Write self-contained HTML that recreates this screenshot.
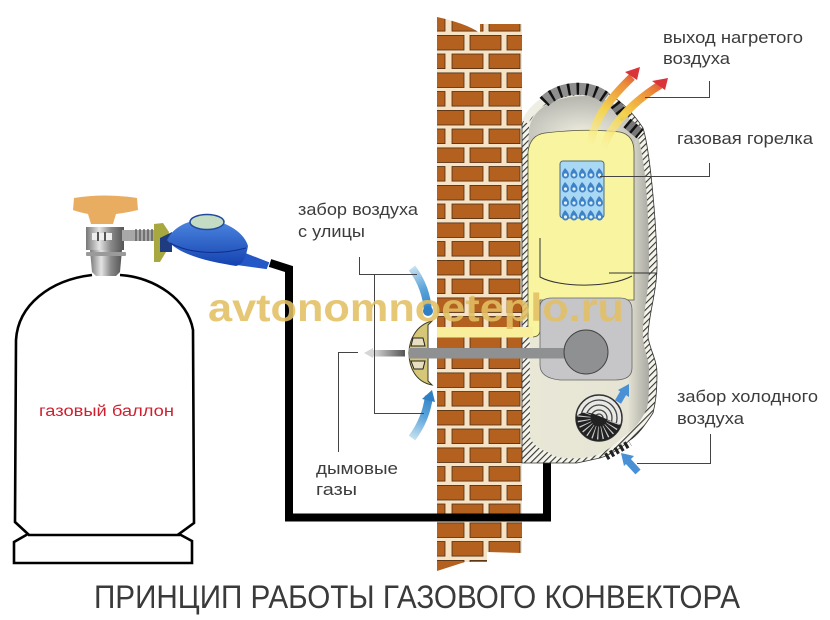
<!DOCTYPE html>
<html><head><meta charset="utf-8"><style>
html,body{margin:0;padding:0;background:#fff}
svg{display:block}
.l{font-family:"Liberation Sans",sans-serif;font-size:16.5px;fill:#3c3c3c}
</style></head><body>
<svg width="830" height="620" viewBox="0 0 830 620" xmlns="http://www.w3.org/2000/svg">
<defs>
<pattern id="br" x="437" y="35" width="85" height="37.5" patternUnits="userSpaceOnUse">
<rect width="85" height="37.5" fill="#f6e2c4"/>
<g fill="#b4601f" stroke="#4c2d14" stroke-width=".8">
<rect x="-2" y="0.4" width="29" height="14.6"/><rect x="33" y="0.4" width="31" height="14.6"/><rect x="70" y="0.4" width="17" height="14.6"/>
<rect x="-2" y="19" width="10" height="14.6"/><rect x="15" y="19" width="31" height="14.6"/><rect x="52" y="19" width="31" height="14.6"/>
</g></pattern>
<pattern id="ha" width="4.500" height="4.500" patternUnits="userSpaceOnUse" patternTransform="rotate(-45)">
<rect width="4.500" height="4.500" fill="#f4f4ea"/><rect width="4.500" height="1.100" fill="#333"/>
</pattern>
<linearGradient id="sh" x1="0" y1="0" x2="1" y2="0"><stop offset="0" stop-color="#e9e7d6"/><stop offset=".82" stop-color="#e6e4d4"/><stop offset="1" stop-color="#a9a9a3"/></linearGradient>
<linearGradient id="a1" gradientUnits="userSpaceOnUse" x1="592" y1="145" x2="640" y2="67"><stop offset="0" stop-color="#faf3a0" stop-opacity=".6"/><stop offset=".4" stop-color="#f4d34e"/><stop offset=".75" stop-color="#ec8e3a"/><stop offset="1" stop-color="#d8343a"/></linearGradient>
<linearGradient id="a2" gradientUnits="userSpaceOnUse" x1="603" y1="147" x2="668" y2="77"><stop offset="0" stop-color="#faf3a0" stop-opacity=".6"/><stop offset=".4" stop-color="#f4d34e"/><stop offset=".75" stop-color="#ec8e3a"/><stop offset="1" stop-color="#d8343a"/></linearGradient>
<linearGradient id="b1" gradientUnits="userSpaceOnUse" x1="411" y1="268" x2="428" y2="313"><stop offset="0" stop-color="#c4e0f0"/><stop offset=".5" stop-color="#5ba3da"/><stop offset="1" stop-color="#2f7fc4"/></linearGradient>
<linearGradient id="b2" gradientUnits="userSpaceOnUse" x1="412" y1="438" x2="430" y2="392"><stop offset="0" stop-color="#c4e0f0"/><stop offset=".5" stop-color="#5ba3da"/><stop offset="1" stop-color="#2f7fc4"/></linearGradient>
<linearGradient id="g1" x1="0" y1="0" x2="1" y2="0"><stop offset="0" stop-color="#ddd"/><stop offset="1" stop-color="#555"/></linearGradient>
<linearGradient id="si" x1="0" y1="0" x2="1" y2="0"><stop offset="0" stop-color="#777"/><stop offset=".35" stop-color="#e4e4e4"/><stop offset=".65" stop-color="#8a8a8a"/><stop offset="1" stop-color="#555"/></linearGradient>
<linearGradient id="rb" x1="0" y1="0" x2="0" y2="1"><stop offset="0" stop-color="#4d87e0"/><stop offset="1" stop-color="#1442b0"/></linearGradient>
<radialGradient id="dm" cx=".5" cy=".7" r=".65"><stop offset="0" stop-color="#efede0"/><stop offset="1" stop-color="#b9b9b2"/></radialGradient>
<clipPath id="fanlow"><path d="M575,418 C585,405 600,418 622,425 L622,445 L575,445Z"/></clipPath>
</defs>

<!-- wall -->
<path d="M437,17 C455,21 470,26 480,33 L480,24 L522,24 L522,553 L487,552 L487,562 L465,562 L437,571Z" fill="url(#br)"/>

<!-- cylinder -->
<g fill="none" stroke="#000" stroke-width="2.6">
<path d="M92,275 C50,280 18,305 16,340 L15,522 L28,534 L14,542 L14,563 L192,563 L192,541 L179,534 L194,523 L193,330 C188,300 155,277 120,275"/>
<path d="M28,535 L180,535"/>
</g>
<text x="39" y="416" font-family="Liberation Sans,sans-serif" font-size="15.5" fill="#d02030" textLength="135" lengthAdjust="spacingAndGlyphs">газовый баллон</text>

<!-- valve -->
<path d="M90,250 H122 L120,272 L116,276 H96 L92,272Z" fill="url(#si)"/>
<rect x="86" y="252" width="40" height="4" rx="1" fill="#9a9a9a"/>
<path d="M86,227 H124 V250 H86Z" fill="url(#si)"/>
<rect x="92" y="233" width="20" height="7" fill="#eee"/><path d="M98,232V241M105,232V241" stroke="#555" stroke-width="2"/>
<rect x="122" y="230" width="34" height="11" fill="#a8a8a8"/>
<path d="M136,229V241M140,229V241M144,229V241M148,229V241M152,229V241" stroke="#555" stroke-width="1.300"/>
<path d="M74,198 Q105,193 137,198 L138,210 Q125,213 116,214 L113,224 H91 L88,214 Q78,212 73,210Z" fill="#e9ad62"/>
<path d="M154,224 L163,223 L169,232 L166,252 L160,262 H154Z" fill="#a8a840"/>
<!-- regulator -->
<path d="M240,252 L268,263 L266,268 L237,264Z" fill="#2458c6" stroke="#2458c6" stroke-width="2"/>
<path d="M160,238 L172,232 L172,252 L160,252Z" fill="#1f3c80"/>
<path d="M167,240 C174,226 190,219 207,220 C228,221 245,234 248,246 C246,258 242,265 236,266 C212,262 180,256 167,240Z" fill="url(#rb)"/>
<path d="M170,243 C190,254 220,255 246,248" fill="none" stroke="#0f2f90" stroke-width="1"/>
<ellipse cx="207" cy="222" rx="17" ry="7.500" fill="#c5dcc4" stroke="#224a9a" stroke-width="1.500"/>

<!-- black pipe -->
<path d="M270,263 L289,269 V517.500 H547 V462" fill="none" stroke="#000" stroke-width="8"/>

<!-- convector -->
<path d="M522,125 C526,112 534,104 543,98 C558,88 575,84 590,87 C610,90 630,108 643,128 C650,150 656,220 657,260 C658,290 648,315 648,337 C650,350 657,360 657,373 C657,395 655,405 653,413 C645,425 638,435 630,440 C620,449 610,455 600,458 L577,463 H522Z" fill="url(#ha)" stroke="#333" stroke-width=".8"/>
<path d="M525,122 C530,112 536,106 545,100" fill="none" stroke="#eeeee4" stroke-width="7"/>
<path d="M529,127 C532,108 555,95 585,95 C612,95 630,115 636,132 C644,150 649,200 649,260 C650,290 642,315 643,337 C644,352 650,360 649,373 C649,385 649,400 647,408 C641,422 632,432 623,437 C612,448 600,455 590,457 C572,460 552,458 550,453 C540,450 532,444 530,437 L529,127Z" fill="url(#sh)"/>
<path d="M529,130 C532,108 555,96 585,96 C612,96 630,115 636,132 L634,150 L528,150Z" fill="url(#dm)"/>
<!-- yellow -->
<path d="M528,152 Q530,135 545,133 Q585,128 620,132 Q634,135 634,152 L634,300 L540,300 L540,330 Q540,337 532,337 L528,337Z" fill="#f8f4a0" stroke="#55553a" stroke-width=".8"/>
<rect x="437" y="327" width="96" height="10.500" fill="#f8ee9c"/>
<path d="M540,238 V277 C560,288 610,288 632,276 M609,273 H657" fill="none" stroke="#333" stroke-width="1"/>
<!-- gray panel -->
<path d="M540,307 Q540,298 552,298 H620 Q632,298 632,310 V368 Q632,380 615,380 H560 Q540,378 540,365Z" fill="#c6c6c8" stroke="#666" stroke-width=".8"/>
<rect x="409" y="348" width="160" height="10.500" fill="#8f9091"/>
<circle cx="586" cy="352" r="22" fill="#8f9091" stroke="#444" stroke-width="1"/>

<!-- burner -->
<rect x="560" y="161" width="44" height="57" rx="3" fill="#a8d8f4" stroke="#4d6a80" stroke-width="1"/>
<g id="fr" fill="#3f82c6">
<path d="M565,168 q-3.500,4.500 -3,7 a3.500,3.500 0 0 0 7,0 q0,-3 -4,-7Z"/><path d="M573.500,168 q-3.500,4.500 -3,7 a3.500,3.500 0 0 0 7,0 q0,-3 -4,-7Z"/><path d="M582,168 q-3.500,4.500 -3,7 a3.500,3.500 0 0 0 7,0 q0,-3 -4,-7Z"/><path d="M590.500,168 q-3.500,4.500 -3,7 a3.500,3.500 0 0 0 7,0 q0,-3 -4,-7Z"/><path d="M599,168 q-3.500,4.500 -3,7 a3.500,3.500 0 0 0 7,0 q0,-3 -4,-7Z"/>
<g fill="#dff1fb"><circle cx="565.500" cy="175" r="1.600"/><circle cx="574" cy="175" r="1.600"/><circle cx="582.500" cy="175" r="1.600"/><circle cx="591" cy="175" r="1.600"/><circle cx="599.500" cy="175" r="1.600"/></g>
</g>
<use href="#fr" y="14"/><use href="#fr" y="28"/><use href="#fr" y="42"/>

<!-- grilles -->
<g fill="none">
<path d="M544,102 C556,89 586,82 606,98" stroke="#8f8f8f" stroke-width="12"/>
<path d="M544,102 C556,89 586,82 606,98" stroke="#111" stroke-width="12" stroke-dasharray="2.500 6.500"/>
<path d="M615,104 L626,118" stroke="#777" stroke-width="11"/><path d="M615,104 L626,118" stroke="#111" stroke-width="11" stroke-dasharray="2.500 5"/>
<path d="M627,123 L640,134" stroke="#777" stroke-width="11"/><path d="M627,123 L640,134" stroke="#111" stroke-width="11" stroke-dasharray="2.500 5"/>
<path d="M606,457 L630,443" stroke="#222" stroke-width="7" stroke-dasharray="3 2.500"/>
</g>

<!-- hot arrows -->
<path d="M590,145 C594,122 604,104 632,77" fill="none" stroke="url(#a1)" stroke-width="8"/>
<path d="M603,149 C608,130 628,105 660,85" fill="none" stroke="url(#a2)" stroke-width="8"/>
<path d="M640,67 L637,80 L625,72Z" fill="#d8343a"/>
<path d="M668,78 L665,90 L652,81Z" fill="#d8343a"/>

<!-- fan -->
<circle cx="599" cy="418" r="23" fill="#e8e8e4" stroke="#333" stroke-width="1.500"/>
<g fill="none" stroke="#444" stroke-width="1.300"><circle cx="599" cy="418" r="18"/><circle cx="599" cy="418" r="13"/><circle cx="599" cy="418" r="8"/><circle cx="599" cy="418" r="4"/></g>
<g clip-path="url(#fanlow)"><circle cx="599" cy="418" r="23" fill="#222"/><circle cx="599" cy="418" r="15" fill="none" stroke="#ccc" stroke-width="13" stroke-dasharray="1 3"/></g>

<!-- blue small arrows -->
<path d="M618,402 L625,390" stroke="#4a90d4" stroke-width="7"/><path d="M629,384 L629,397 L618,390Z" fill="#4a90d4"/>
<path d="M638,472 L627,460" stroke="#4a90d4" stroke-width="7"/><path d="M621,453 L634,456 L624,466Z" fill="#4a90d4"/>

<!-- hood -->
<path d="M432,321 C416,325 409,340 409,353 C409,368 416,382 432,385 L428,381 V325Z" fill="#d6c677" stroke="#3c3a20" stroke-width="1"/>
<path d="M413,338 H423 L425,346 H411Z M411,361 H425 L423,369 H414Z" fill="#e8dfc0" stroke="#222" stroke-width="1"/>
<rect x="409" y="348" width="28" height="10.500" fill="#8f9091"/>
<rect x="372" y="350" width="33" height="6.500" fill="url(#g1)"/>
<path d="M364,353 L373,348 V358Z" fill="#d6d6d6"/>

<!-- blue arcs -->
<path d="M412,268 C421,280 427,295 428,312" fill="none" stroke="url(#b1)" stroke-width="8"/>
<path d="M412,438 C421,426 427,412 429,396" fill="none" stroke="url(#b2)" stroke-width="8"/>
<path d="M432,390 L435,402 L422,399Z" fill="#2f7fc4"/>
<circle cx="428" cy="311" r="5" fill="#2f7fc4"/>

<!-- leader lines -->
<g fill="none" stroke="#444" stroke-width="1">
<path d="M359.500,257 V274.500 H417"/>
<path d="M374.500,274.500 V413.500 H424"/>
<path d="M358,352.500 H338.500 V452"/>
<path d="M645,97.500 H709.500 V81"/>
<path d="M600,176.500 H709.500 V163"/>
<path d="M637,463.500 H710.500 V434"/>
</g>

<!-- watermark -->
<text x="208" y="321" font-family="Liberation Sans,sans-serif" font-weight="bold" font-size="39" fill="#e3bf63" fill-opacity=".88" textLength="416" lengthAdjust="spacingAndGlyphs">avtonomnoeteplo.ru</text>

<!-- labels -->
<text class="l" x="298" y="215" textLength="120" lengthAdjust="spacingAndGlyphs">забор воздуха</text>
<text class="l" x="298" y="237" textLength="67" lengthAdjust="spacingAndGlyphs">с улицы</text>
<text class="l" x="663" y="43" textLength="140" lengthAdjust="spacingAndGlyphs">выход нагретого</text>
<text class="l" x="663" y="64" textLength="67" lengthAdjust="spacingAndGlyphs">воздуха</text>
<text class="l" x="677" y="144" textLength="136" lengthAdjust="spacingAndGlyphs">газовая горелка</text>
<text class="l" x="677" y="402" textLength="141" lengthAdjust="spacingAndGlyphs">забор холодного</text>
<text class="l" x="677" y="424" textLength="67" lengthAdjust="spacingAndGlyphs">воздуха</text>
<text class="l" x="316" y="474" textLength="82" lengthAdjust="spacingAndGlyphs">дымовые</text>
<text class="l" x="316" y="495" textLength="41" lengthAdjust="spacingAndGlyphs">газы</text>
<text x="94" y="608" font-family="Liberation Sans,sans-serif" font-size="32" fill="#3a3a3a" textLength="646" lengthAdjust="spacingAndGlyphs">ПРИНЦИП РАБОТЫ ГАЗОВОГО КОНВЕКТОРА</text>
</svg>
</body></html>
